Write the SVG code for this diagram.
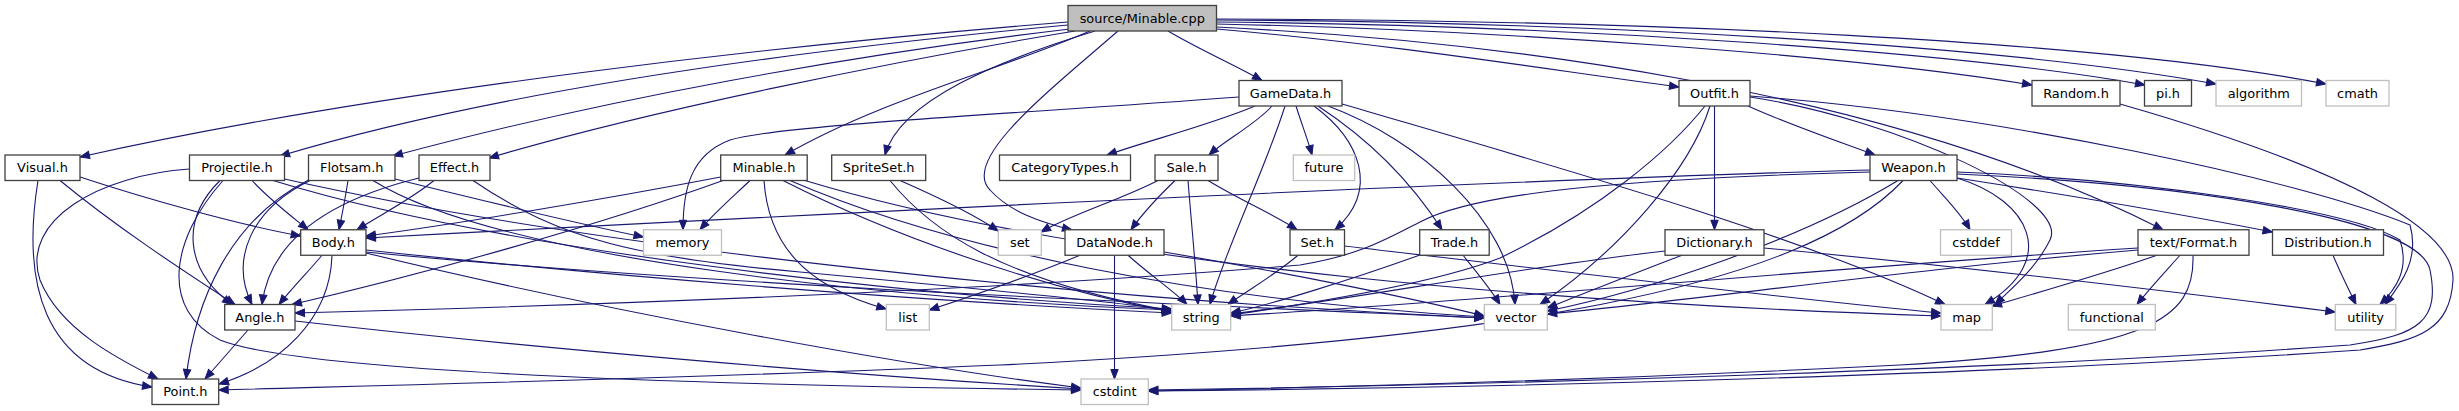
<svg xmlns="http://www.w3.org/2000/svg" width="2459" height="411" viewBox="0 0 2459 411">
<style>
.n rect{fill:#fff;stroke:#404040;stroke-width:1.3}
.g rect{fill:#fff;stroke:#bfbfbf;stroke-width:1.3}
.r rect{fill:#bfbfbf;stroke:#404040;stroke-width:1.3}
text{font-family:"DejaVu Sans","Liberation Sans",sans-serif;font-size:12.9px;text-anchor:middle;fill:#000}
#edges path{fill:none;stroke:#191970;stroke-width:1.1;marker-end:url(#a)}
</style>
<defs>
<marker id="a" markerUnits="userSpaceOnUse" markerWidth="12" markerHeight="10" refX="9.5" refY="3.7" orient="auto" overflow="visible"><path d="M0,0 L9.5,3.7 L0,7.4 z" fill="#191970" stroke="#191970" stroke-width="1"/></marker>
</defs>
<rect width="2459" height="411" fill="#fff"/>
<g id="edges">
<path d="M1068,22 C780,45 380,90 80,157"/>
<path d="M1068,25 C800,50 500,90 280,156"/>
<path d="M1070,29 C850,55 600,100 393,156"/>
<path d="M1075,31 C900,60 650,110 489,158"/>
<path d="M1090,31 C1000,70 880,100 785,155"/>
<path d="M1095,31 C1000,60 900,100 885,155"/>
<path d="M1118,31 C1050,90 960,160 990,190 C1010,212 1040,222 1072,230"/>
<path d="M1168,31 C1200,50 1235,65 1262,80.5"/>
<path d="M1216.5,29 C1400,45 1550,70 1679,87"/>
<path d="M1216.5,27 C1480,40 1880,85 2163,229.75"/>
<path d="M1216.5,24 C1500,30 1850,55 2032,85"/>
<path d="M1216.5,22 C1550,25 1950,50 2145,85"/>
<path d="M1216.5,20 C1600,22 2000,45 2216,84"/>
<path d="M1216.5,19 C1650,20 2100,40 2326,84"/>
<path d="M1239,97 C1000,115 780,125 730,140 C690,155 683,190 683,229.75"/>
<path d="M1255,106 C1210,125 1150,140 1107,155"/>
<path d="M1272,106 C1255,125 1225,140 1209,155"/>
<path d="M1285,106 C1265,170 1225,250 1210,304.5"/>
<path d="M1296,106 C1302,125 1308,140 1312,155"/>
<path d="M1314,106 C1360,140 1380,190 1335,229.75"/>
<path d="M1318,106 C1370,140 1410,180 1442,229.75"/>
<path d="M1328,106 C1420,140 1510,220 1515,304.5"/>
<path d="M1342,104 C1550,165 1800,235 1945,304.5"/>
<path d="M1158,180.5 C1120,200 1070,215 1041,232"/>
<path d="M1175,180.5 C1160,195 1145,210 1131,229.75"/>
<path d="M1188,180.5 C1192,230 1196,270 1198,304.5"/>
<path d="M1208,180.5 C1240,200 1275,215 1297,229.75"/>
<path d="M1298,255.25 C1275,275 1245,292 1228,304.5"/>
<path d="M1344.5,246 C1550,270 1800,300 1941,313"/>
<path d="M1080,255.25 C1020,280 960,300 929.3,310"/>
<path d="M1114.5,255.25 L1114.5,379"/>
<path d="M1128,255.25 C1150,275 1175,292 1187,304.5"/>
<path d="M1164,252 C1300,275 1420,300 1484.3,316"/>
<path d="M1420,255 C1350,280 1270,305 1230.7,313"/>
<path d="M1463,255.25 C1475,270 1490,288 1500,304.5"/>
<path d="M900,180.5 C940,198 975,215 998.3,231"/>
<path d="M890,180.5 C930,230 1000,280 1171.7,311"/>
<path d="M720.7,177 C600,200 450,225 366,236"/>
<path d="M723,180.5 C600,225 420,275 292,304.5"/>
<path d="M750,180.5 C735,195 715,212 700,229.75"/>
<path d="M764,180.5 C768,240 800,285 886.3,309"/>
<path d="M783,180.5 C900,240 1050,290 1171.7,312"/>
<path d="M790,180.5 C950,250 1200,300 1484.3,317"/>
<path d="M805,180.5 C1100,270 1600,305 1941,316"/>
<path d="M80,177 C150,200 240,225 300.7,236"/>
<path d="M60,180.5 C120,230 190,275 235,304.5"/>
<path d="M38,180.5 C22,280 40,370 152,387"/>
<path d="M189.5,169 C100,175 20,220 40,280 C60,330 120,360 158,379"/>
<path d="M220,180.5 C180,220 185,270 232,304.5"/>
<path d="M223,180.5 C170,240 160,310 220,340 C300,372 700,385 1081,390"/>
<path d="M252,180.5 C270,200 290,215 308,229.75"/>
<path d="M273,180.5 C500,250 900,295 1171.7,309"/>
<path d="M284.5,179 C600,250 1100,300 1484.3,318"/>
<path d="M348,180.5 C345,200 342,215 339,229.75"/>
<path d="M310,180.5 C250,210 230,260 252,304.5"/>
<path d="M308.5,180 C230,220 195,300 186,379"/>
<path d="M395,179 C480,200 570,222 643.5,237"/>
<path d="M373,180.5 C500,260 900,300 1171.7,310"/>
<path d="M434,180.5 C410,200 380,215 357,229.75"/>
<path d="M419,178 C330,200 270,240 262,304.5"/>
<path d="M473,180.5 C560,240 640,258 800,272 C950,286 1100,300 1171.7,310"/>
<path d="M322,255.25 C308,272 292,288 279,304.5"/>
<path d="M332,255.25 C330,320 280,365 219,384"/>
<path d="M366,250 C600,275 900,300 1171.7,313"/>
<path d="M366,252 C700,285 1200,305 1484.3,318"/>
<path d="M366,253 C600,310 900,365 1081,388"/>
<path d="M248,330 C235,345 220,362 205,379"/>
<path d="M295,321 C550,350 850,375 1081,389"/>
<path d="M1748,106 C1790,125 1840,142 1875,155"/>
<path d="M1714.5,106 L1714.5,229.75"/>
<path d="M1705,106 C1670,150 1600,210 1500,258 C1430,285 1300,305 1230.7,315"/>
<path d="M1710,106 C1690,170 1620,250 1540,304.5"/>
<path d="M1750,97 C1900,120 2070,200 2050,240 C2035,270 2010,290 1995,304.5"/>
<path d="M1750,96 C2000,115 2300,180 2410,225 C2420,260 2400,285 2385,304.5"/>
<path d="M1870,170 C1500,180 800,215 366,238"/>
<path d="M1870,172 C1650,178 1480,190 1420,222 C1385,240 1360,255 1300,265 C1000,290 600,305 295,313"/>
<path d="M1898,180.5 C1800,240 1650,290 1547.3,311"/>
<path d="M1903,180.5 C1800,290 1500,340 1000,365 C700,378 400,385 218.7,390"/>
<path d="M1930,180.5 C1945,198 1960,212 1970,229.75"/>
<path d="M1957,178 C2030,200 2060,260 1985,304.5"/>
<path d="M1957,172 C2150,180 2350,210 2400,240 C2410,270 2395,290 2380,304.5"/>
<path d="M1957,174 C2200,185 2420,220 2430,270 C2440,320 2420,335 2350,345 C2000,370 1500,385 1148.3,390"/>
<path d="M1957,178 C2100,200 2200,218 2272.5,232"/>
<path d="M2120,104 C2350,170 2455,230 2453,280 C2450,330 2420,340 2360,350 C2000,375 1500,388 1148.3,391"/>
<path d="M1665,251 C1500,270 1350,300 1230.7,314"/>
<path d="M1682,255.25 C1630,275 1580,295 1547.3,308"/>
<path d="M1764,248 C2000,270 2200,295 2335.3,312"/>
<path d="M2138,248 C1800,270 1500,300 1230.7,316"/>
<path d="M2138,250 C1900,270 1700,300 1547.3,314"/>
<path d="M2157,255.25 C2100,275 2040,292 1992,306"/>
<path d="M2180,255.25 C2165,272 2150,288 2137,304.5"/>
<path d="M2193,255.25 C2195,320 2150,350 1900,365 C1600,380 1300,388 1148.3,391"/>
<path d="M2333,255.25 C2340,272 2348,288 2356,304.5"/>
</g>
<g id="n_cpp" class="r"><rect x="1068" y="5.5" width="148.5" height="25.5"/><text x="1142.25" y="22.75">source/Minable.cpp</text></g>
<g id="n_GameData" class="n"><rect x="1239" y="80.5" width="103" height="25.5"/><text x="1290.5" y="97.75">GameData.h</text></g>
<g id="n_Outfit" class="n"><rect x="1679" y="80.5" width="71" height="25.5"/><text x="1714.5" y="97.75">Outfit.h</text></g>
<g id="n_Random" class="n"><rect x="2032" y="80.5" width="88" height="25.5"/><text x="2076" y="97.75">Random.h</text></g>
<g id="n_pi" class="n"><rect x="2144.5" y="80.5" width="47" height="25.5"/><text x="2168" y="97.75">pi.h</text></g>
<g id="n_algorithm" class="g"><rect x="2216" y="80.5" width="85.5" height="25.5"/><text x="2258.75" y="97.75">algorithm</text></g>
<g id="n_cmath" class="g"><rect x="2326" y="80.5" width="63" height="25.5"/><text x="2357.5" y="97.75">cmath</text></g>
<g id="n_Visual" class="n"><rect x="5" y="155" width="75" height="25.5"/><text x="42.5" y="172.25">Visual.h</text></g>
<g id="n_Projectile" class="n"><rect x="189.5" y="155" width="95" height="25.5"/><text x="237" y="172.25">Projectile.h</text></g>
<g id="n_Flotsam" class="n"><rect x="308.5" y="155" width="86.5" height="25.5"/><text x="351.75" y="172.25">Flotsam.h</text></g>
<g id="n_Effect" class="n"><rect x="419" y="155" width="71" height="25.5"/><text x="454.5" y="172.25">Effect.h</text></g>
<g id="n_Minable" class="n"><rect x="720.7" y="155" width="86.5" height="25.5"/><text x="763.95" y="172.25">Minable.h</text></g>
<g id="n_SpriteSet" class="n"><rect x="831.7" y="155" width="94" height="25.5"/><text x="878.7" y="172.25">SpriteSet.h</text></g>
<g id="n_CategoryTypes" class="n"><rect x="999.5" y="155" width="131" height="25.5"/><text x="1065" y="172.25">CategoryTypes.h</text></g>
<g id="n_Sale" class="n"><rect x="1155" y="155" width="63" height="25.5"/><text x="1186.5" y="172.25">Sale.h</text></g>
<g id="n_future" class="g"><rect x="1293.3" y="155" width="61.4" height="25.5"/><text x="1324" y="172.25">future</text></g>
<g id="n_Weapon" class="n"><rect x="1870" y="155" width="87" height="25.5"/><text x="1913.5" y="172.25">Weapon.h</text></g>
<g id="n_Body" class="n"><rect x="300.7" y="229.75" width="65.3" height="25.5"/><text x="333.35" y="247">Body.h</text></g>
<g id="n_memory" class="g"><rect x="643.5" y="229.75" width="78" height="25.5"/><text x="682.5" y="247">memory</text></g>
<g id="n_set" class="g"><rect x="998.3" y="229.75" width="43" height="25.5"/><text x="1019.8" y="247">set</text></g>
<g id="n_DataNode" class="n"><rect x="1065" y="229.75" width="99" height="25.5"/><text x="1114.5" y="247">DataNode.h</text></g>
<g id="n_Set" class="n"><rect x="1290" y="229.75" width="54.5" height="25.5"/><text x="1317.25" y="247">Set.h</text></g>
<g id="n_Trade" class="n"><rect x="1419.7" y="229.75" width="69.5" height="25.5"/><text x="1454.45" y="247">Trade.h</text></g>
<g id="n_Dictionary" class="n"><rect x="1665" y="229.75" width="99" height="25.5"/><text x="1714.5" y="247">Dictionary.h</text></g>
<g id="n_cstddef" class="g"><rect x="1940.5" y="229.75" width="71" height="25.5"/><text x="1976" y="247">cstddef</text></g>
<g id="n_Format" class="n"><rect x="2138" y="229.75" width="111" height="25.5"/><text x="2193.5" y="247">text/Format.h</text></g>
<g id="n_Distribution" class="n"><rect x="2272.5" y="229.75" width="111" height="25.5"/><text x="2328" y="247">Distribution.h</text></g>
<g id="n_Angle" class="n"><rect x="224.7" y="304.5" width="70.3" height="25.5"/><text x="259.85" y="321.75">Angle.h</text></g>
<g id="n_list" class="g"><rect x="886.3" y="304.5" width="43" height="25.5"/><text x="907.8" y="321.75">list</text></g>
<g id="n_string" class="g"><rect x="1171.7" y="304.5" width="59" height="25.5"/><text x="1201.2" y="321.75">string</text></g>
<g id="n_vector" class="g"><rect x="1484.3" y="304.5" width="63" height="25.5"/><text x="1515.8" y="321.75">vector</text></g>
<g id="n_map" class="g"><rect x="1941" y="304.5" width="51.3" height="25.5"/><text x="1966.65" y="321.75">map</text></g>
<g id="n_functional" class="g"><rect x="2068.3" y="304.5" width="87" height="25.5"/><text x="2111.8" y="321.75">functional</text></g>
<g id="n_utility" class="g"><rect x="2335.3" y="304.5" width="60.5" height="25.5"/><text x="2365.55" y="321.75">utility</text></g>
<g id="n_Point" class="n"><rect x="152" y="379" width="66.7" height="25.5"/><text x="185.35" y="396.25">Point.h</text></g>
<g id="n_cstdint" class="g"><rect x="1081" y="379" width="67.3" height="25.5"/><text x="1114.65" y="396.25">cstdint</text></g>
</svg>
